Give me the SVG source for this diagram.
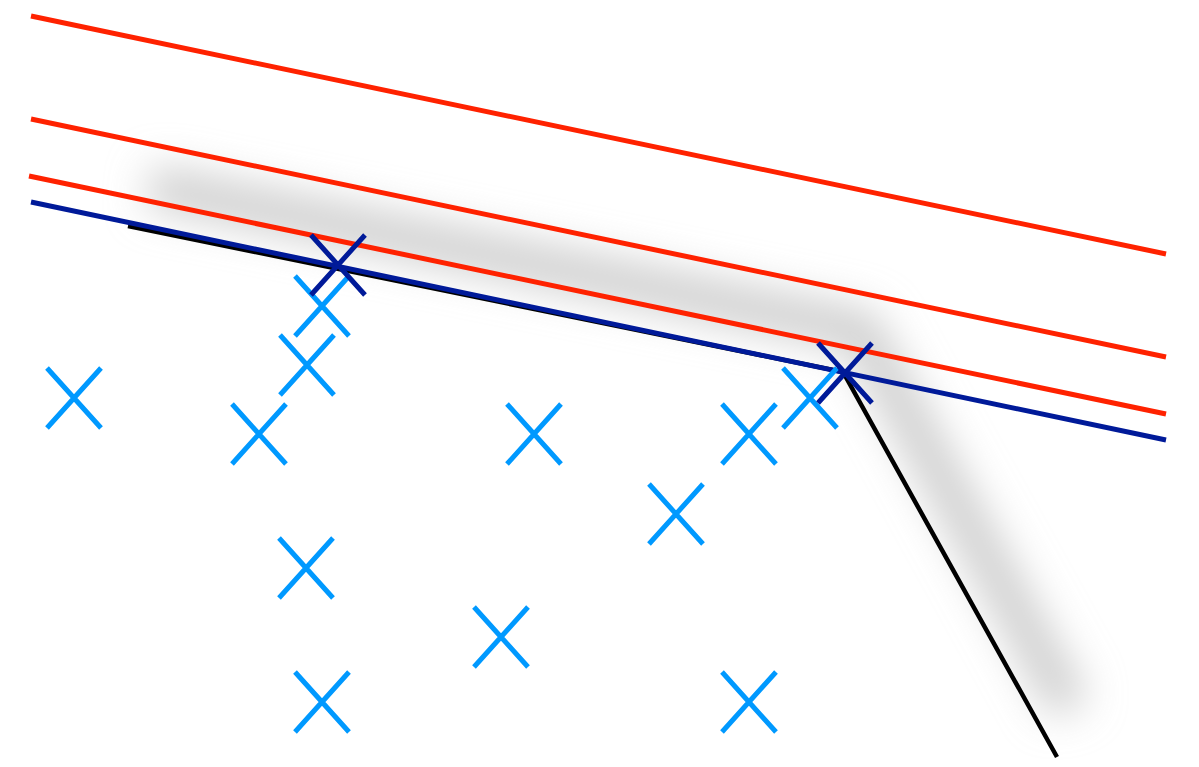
<svg xmlns="http://www.w3.org/2000/svg" width="1199" height="767" viewBox="0 0 1199 767">
  <defs>
    <filter id="blur" filterUnits="userSpaceOnUse" x="0" y="0" width="1199" height="767">
      <feGaussianBlur stdDeviation="20"/>
    </filter>
    <style>
      .red { stroke: #ff2200; stroke-width: 5; fill: none; }
      .blue { stroke: #001a99; stroke-width: 5; fill: none; }
      .black { stroke: #000000; stroke-width: 4.5; fill: none; stroke-linejoin: miter; }
      .pt { stroke: #0099ff; stroke-width: 5; fill: none; }
      .sv { stroke: #001a99; stroke-width: 5; fill: none; }
    </style>
    <path id="x" d="M-27,-30 L27,30 M27,-30 L-27,30"/>
  </defs>
  <rect width="1199" height="767" fill="#ffffff"/>
  <g id="shadow">
    <polyline points="150,186 860,330 1070,708" fill="none" stroke="#cccccc" stroke-width="40" stroke-linejoin="round" filter="url(#blur)"/>
  </g>
  <g id="lines">
    <line class="red" x1="31" y1="16" x2="1166" y2="254"/>
    <line class="red" x1="31" y1="119" x2="1166" y2="357"/>
    <line class="red" x1="29" y1="176" x2="1166" y2="414"/>
    <polyline class="black" points="128,226 843,372 1057,757"/>
    <line class="blue" x1="31" y1="202" x2="1166" y2="440"/>
  </g>
  <g id="points" class="pt">
    <use href="#x" x="74" y="398"/>
    <use href="#x" x="322" y="306"/>
    <use href="#x" x="307" y="365"/>
    <use href="#x" x="259" y="434"/>
    <use href="#x" x="534" y="434"/>
    <use href="#x" x="749" y="434"/>
    <use href="#x" x="810" y="398"/>
    <use href="#x" x="676" y="514"/>
    <use href="#x" x="306" y="568"/>
    <use href="#x" x="501" y="637"/>
    <use href="#x" x="322" y="702"/>
    <use href="#x" x="749" y="702"/>
  </g>
  <g id="support-vectors" class="sv">
    <use href="#x" x="338" y="265"/>
    <use href="#x" x="845" y="373"/>
  </g>
</svg>
